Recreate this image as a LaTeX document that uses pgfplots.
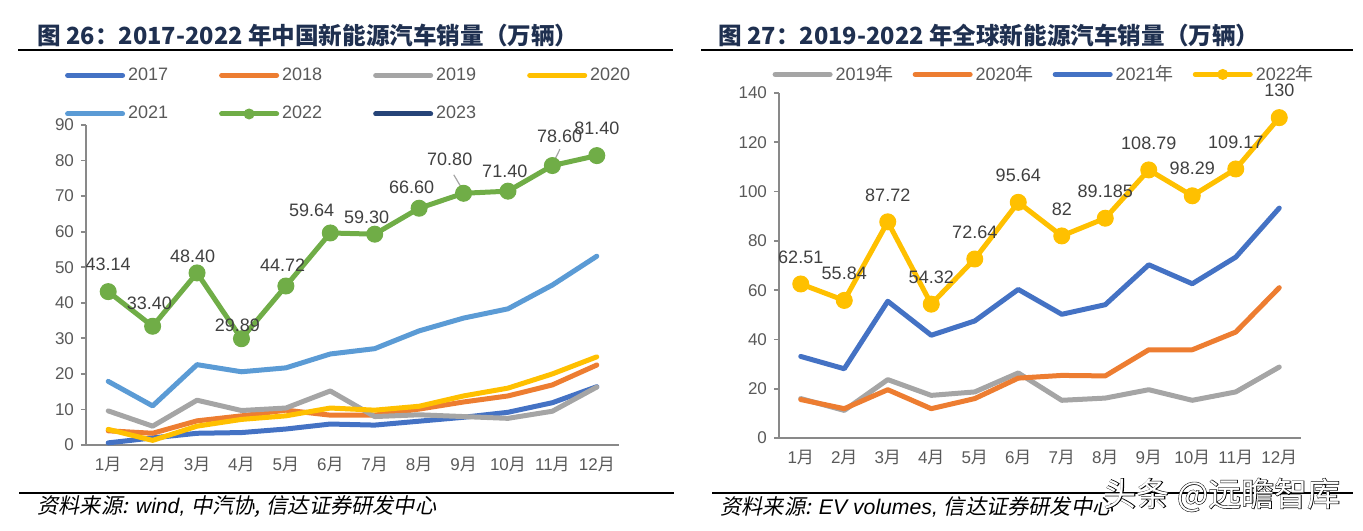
\documentclass[border=0pt]{standalone}
\usepackage{pgfplots}
\pgfplotsset{compat=1.18}
\usepackage{pgfplotstable}
\usepackage{fontspec}
\setmainfont{Liberation Sans}
\newfontfamily\cjk{Noto Sans CJK SC}[AutoFakeSlant=0.2]
\newfontfamily\cjkfb{Noto Sans CJK SC}[FakeBold=3]
\newcommand\yue{{\cjk 月}}
\newcommand\nian{{\cjk 年}}
\definecolor{c17}{HTML}{4472C4}
\definecolor{c18}{HTML}{ED7D31}
\definecolor{c19}{HTML}{A5A5A5}
\definecolor{c20}{HTML}{FFC000}
\definecolor{c21}{HTML}{5B9BD5}
\definecolor{c22}{HTML}{70AD47}
\definecolor{c23}{HTML}{264478}
\definecolor{titleblue}{HTML}{1F3050}
\definecolor{tickgray}{HTML}{595959}
\definecolor{lblgray}{HTML}{404040}
\definecolor{axisgray}{HTML}{898989}

\pgfplotstableread{
m y17 y18 y19 y20 y21
1 0.6 4.0 9.6 4.4 17.9
2 2.0 3.3 5.3 1.3 11.0
3 3.3 6.8 12.6 5.3 22.6
4 3.5 8.2 9.7 7.2 20.6
5 4.5 9.8 10.4 8.2 21.7
6 5.9 8.4 15.2 10.4 25.6
7 5.6 8.4 8.0 9.8 27.1
8 6.7 10.1 8.5 10.9 32.1
9 7.8 12.1 8.0 13.8 35.7
10 9.2 13.8 7.5 16.0 38.3
11 11.9 16.9 9.5 20.0 45.0
12 16.4 22.5 16.3 24.8 53.1
}\cndata

\pgfplotstableread{
m y lbl dx dy
1 43.14 43.14 0 13.9
2 33.40 33.40 -1.6 11.4
3 48.40 48.40 -2.2 8.5
4 29.89 29.89 -2.0 6.8
5 44.72 44.72 -1.6 10.5
6 59.64 59.64 -9.3 11.4
7 59.30 59.30 -4.0 8.4
8 66.60 66.60 -3.8 10.3
9 70.80 70.80 -6.9 17.1
10 71.40 71.40 -1.6 10.0
11 78.60 78.60 3.6 14.4
12 81.40 81.40 0 13.5
}\cngreen

\pgfplotstableread{
m y19 y20 y21
1 16.0 15.6 33.1
2 11.2 11.9 28.1
3 23.7 19.6 55.5
4 17.3 11.9 41.7
5 18.7 16.0 47.5
6 26.4 24.3 60.3
7 15.3 25.4 50.2
8 16.2 25.2 54.1
9 19.6 35.8 70.3
10 15.3 35.8 62.6
11 18.7 43.0 73.4
12 28.8 61.0 93.3
}\gldata

\pgfplotstableread{
m y lbl
1 62.51 62.51
2 55.84 55.84
3 87.72 87.72
4 54.32 54.32
5 72.64 72.64
6 95.64 95.64
7 82 82
8 89.185 89.185
9 108.79 108.79
10 98.29 98.29
11 109.17 109.17
12 130 130
}\glyellow

\pgfplotsset{
  myax/.style={
    scale only axis, clip=false,
    axis x line*=bottom, axis y line*=left,
    axis line style={axisgray, line width=0.9pt, -},
    xmin=0.5, xmax=12.5, xtick={1,...,12},
    xticklabels={1\yue,2\yue,3\yue,4\yue,5\yue,6\yue,7\yue,8\yue,9\yue,10\yue,11\yue,12\yue},
    major x tick style={draw=none},
    major y tick style={axisgray, line width=0.9pt},
    tick align=outside, major tick length=2.5pt,
    tick label style={font=\fontsize{8.5}{10}\selectfont, text=tickgray},
    /pgf/number format/assume math mode=true,
    every axis plot/.append style={line width=2.5pt, line join=round, line cap=round},
    legend style={draw=none, fill=none, inner sep=0pt, column sep=0pt,
      font=\fontsize{9}{10}\selectfont, text=tickgray,
      nodes={inner sep=1.5pt, anchor=west}},
    legend cell align=left,
    legend image code/.code={\draw[mark repeat=2, mark phase=2, #1, mark size=2.5pt] plot coordinates {(0pt,0pt) (13.75pt,0pt) (27.5pt,0pt)};},
  }
}

\begin{document}
\begin{tikzpicture}
\path[use as bounding box] (0,0) rectangle (681.5pt,-265pt);

% titles and rules
\node[anchor=west, inner sep=0pt, text=titleblue, font=\cjk\bfseries\fontsize{11.8}{13}\selectfont] at (18.5pt,-17.5pt) {图 26：2017-2022 年中国新能源汽车销量（万辆）};
\node[anchor=west, inner sep=0pt, text=titleblue, font=\cjk\bfseries\fontsize{11.8}{13}\selectfont] at (359pt,-17.5pt) {图 27：2019-2022 年全球新能源汽车销量（万辆）};
\draw[line width=1.4pt] (9pt,-25pt) -- (336.5pt,-25pt);
\draw[line width=1.4pt] (350.5pt,-25pt) -- (676.5pt,-25pt);
\draw[line width=1.4pt] (9.5pt,-246.5pt) -- (337pt,-246.5pt);
\draw[line width=1.4pt] (356pt,-246.5pt) -- (676.5pt,-246.5pt);

\node[anchor=west, inner sep=0pt, font=\fontsize{10.6}{12}\selectfont] at (18.5pt,-253.5pt) {{\cjk\itshape 资料来源:} \textit{wind,} {\cjk\itshape 中汽协,} {\cjk\itshape 信达证券研发中心}};
\node[anchor=west, inner sep=0pt, font=\fontsize{10.6}{12}\selectfont] at (360pt,-253.5pt) {{\cjk\itshape 资料来源:} \textit{EV volumes,} {\cjk\itshape 信达证券研发中心}};

% left chart
\begin{axis}[myax, at={(43pt,-222.5pt)}, anchor=south west,
  width=266.5pt, height=160pt,
  ymin=0, ymax=90, ytick={0,10,...,90},
  legend columns=4,
  legend style={at={(-0.04,1.19)}, anchor=north west, row sep=8.5pt,
    /tikz/every even column/.append style={column sep=24pt}},
]
\addplot[c17] table[x=m,y=y17]{\cndata}; \addlegendentry{2017}
\addplot[c18] table[x=m,y=y18]{\cndata}; \addlegendentry{2018}
\addplot[c19] table[x=m,y=y19]{\cndata}; \addlegendentry{2019}
\addplot[c20] table[x=m,y=y20]{\cndata}; \addlegendentry{2020}
\addplot[c21] table[x=m,y=y21]{\cndata}; \addlegendentry{2021}
\addplot[c22, mark=*, mark size=4pt, mark options={solid, fill=c22, draw=c22, line width=0.5pt}]
  table[x=m,y=y]{\cngreen}; \addlegendentry{2022}
\addlegendimage{c23, line width=2.5pt, line cap=round}
\addlegendentry{2023}
\addplot[draw=none, forget plot,
  nodes near coords, point meta=explicit symbolic,
  visualization depends on={\thisrow{dx}\as\dx},
  visualization depends on={\thisrow{dy}\as\dy},
  every node near coord/.append style={anchor=center, xshift=\dx pt, yshift=\dy pt,
    font=\fontsize{9}{10}\selectfont, text=lblgray, inner sep=0pt}]
  table[x=m,y=y,meta=lbl]{\cngreen};
\draw[c19, line width=0.6pt] (axis cs:8.78,76.0) -- (axis cs:8.96,72.2);
\draw[c19, line width=0.6pt] (axis cs:11.17,83.2) -- (axis cs:11.03,79.6);
\end{axis}

% right chart
\begin{axis}[myax, at={(389.5pt,-219pt)}, anchor=south west,
  width=261pt, height=172.5pt,
  ymin=0, ymax=140, ytick={0,20,...,140},
  legend columns=4,
  legend style={at={(-0.013,1.09)}, anchor=north west,
    /tikz/every even column/.append style={column sep=8pt}},
]
\addplot[c19] table[x=m,y=y19]{\gldata}; \addlegendentry{2019\nian}
\addplot[c18] table[x=m,y=y20]{\gldata}; \addlegendentry{2020\nian}
\addplot[c17] table[x=m,y=y21]{\gldata}; \addlegendentry{2021\nian}
\addplot[c20, mark=*, mark size=4pt, mark options={solid, fill=c20, draw=c20, line width=0.5pt}]
  table[x=m,y=y]{\glyellow}; \addlegendentry{2022\nian}
\addplot[draw=none, forget plot,
  nodes near coords, point meta=explicit symbolic,
  every node near coord/.append style={anchor=center, yshift=13.5pt,
    font=\fontsize{9}{10}\selectfont, text=lblgray, inner sep=0pt}]
  table[x=m,y=y,meta=lbl]{\glyellow};
\end{axis}

% watermark
\node[anchor=center, inner sep=0pt, text=black, font=\cjkfb\fontsize{16.5}{18}\selectfont] at (611pt,-247.5pt) {头条 @远瞻智库};
\node[anchor=center, inner sep=0pt, text=white, font=\cjk\fontsize{16.5}{18}\selectfont] at (611pt,-247.5pt) {头条 @远瞻智库};
\end{tikzpicture}
\end{document}
